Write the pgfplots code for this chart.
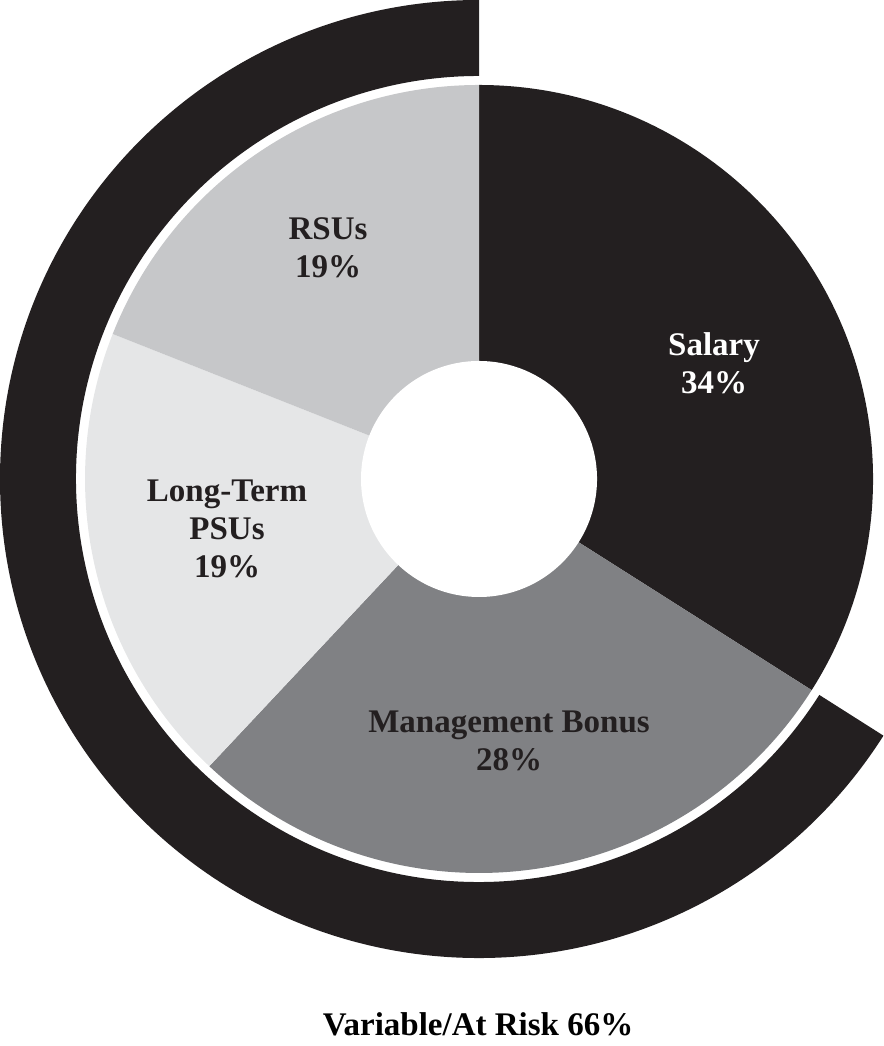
\documentclass[border=0pt]{standalone}
\usepackage{pgfplots}
\usepackage{pgfplotstable}
\pgfplotsset{compat=1.18}
\usepackage{fontspec}
\setmainfont{Liberation Serif}
\definecolor{cSalary}{HTML}{231F20}
\definecolor{cBonus}{HTML}{808184}
\definecolor{cPSU}{HTML}{E5E6E7}
\definecolor{cRSU}{HTML}{C6C7C9}
\definecolor{cRing}{HTML}{231F20}
\definecolor{cText}{HTML}{231F20}

\pgfplotstableread{
name pct
Salary 34
Bonus 28
PSUs 19
RSUs 19
}\datatable
\pgfplotstableread{
name pct
Variable 66
}\ringtable

\begin{document}
\begin{tikzpicture}
\pgfplotstablegetelem{0}{pct}\of\datatable \let\pA\pgfplotsretval
\pgfplotstablegetelem{1}{pct}\of\datatable \let\pB\pgfplotsretval
\pgfplotstablegetelem{2}{pct}\of\datatable \let\pC\pgfplotsretval
\pgfplotstablegetelem{3}{pct}\of\datatable \let\pD\pgfplotsretval
\pgfplotstablegetelem{0}{pct}\of\ringtable \let\pV\pgfplotsretval
\pgfmathsetmacro\aO{90}
\pgfmathsetmacro\aA{\aO-3.6*\pA}
\pgfmathsetmacro\aB{\aA-3.6*\pB}
\pgfmathsetmacro\aC{\aB-3.6*\pC}
\pgfmathsetmacro\aD{\aC-3.6*\pD}
\pgfmathsetmacro\aV{90+3.6*\pV}
\def\cx{479}\def\cy{567}
\def\R{394}\def\Rb{197bp}
\def\Ri{403}\def\Rib{201.5bp}
\def\Ro{479}\def\Rob{239.5bp}
\begin{axis}[
  x=0.5bp, y=0.5bp,
  xmin=0, xmax=883, ymin=0, ymax=1046,
  hide axis, clip=false,
]
\path (axis cs:0,0) rectangle (axis cs:883,1046);
% outer ring (variable / at risk)
\fill[cRing] (axis cs:{\cx+\Ro*cos(\aO)},{\cy+\Ro*sin(\aO)})
  arc[start angle=\aO, end angle=\aV, radius=\Rob]
  -- (axis cs:{\cx+\Ri*cos(\aV)},{\cy+\Ri*sin(\aV)})
  arc[start angle=\aV, end angle=\aO, radius=\Rib] -- cycle;
% wedges
\fill[cSalary] (axis cs:\cx,\cy) -- (axis cs:{\cx+\R*cos(\aO)},{\cy+\R*sin(\aO)})
  arc[start angle=\aO, end angle=\aA, radius=\Rb] -- cycle;
\fill[cBonus] (axis cs:\cx,\cy) -- (axis cs:{\cx+\R*cos(\aA)},{\cy+\R*sin(\aA)})
  arc[start angle=\aA, end angle=\aB, radius=\Rb] -- cycle;
\fill[cPSU] (axis cs:\cx,\cy) -- (axis cs:{\cx+\R*cos(\aB)},{\cy+\R*sin(\aB)})
  arc[start angle=\aB, end angle=\aC, radius=\Rb] -- cycle;
\fill[cRSU] (axis cs:\cx,\cy) -- (axis cs:{\cx+\R*cos(\aC)},{\cy+\R*sin(\aC)})
  arc[start angle=\aC, end angle=\aD, radius=\Rb] -- cycle;
% hole
\fill[white] (axis cs:\cx,\cy) circle[radius=59bp];
% labels
\tikzset{lbl/.style={align=center, font=\fontsize{16.5bp}{19bp}\selectfont\bfseries, inner sep=0pt}}
\node[lbl, text=white] at (axis cs:714,683) {Salary\\34\%};
\node[lbl, text=cText] at (axis cs:509,305) {Management Bonus\\28\%};
\node[lbl, text=cText] at (axis cs:227,517) {Long-Term\\PSUs\\19\%};
\node[lbl, text=cText] at (axis cs:328,798) {RSUs\\19\%};
\node[lbl, text=black] at (axis cs:478,22) {Variable/At Risk 66\%};
\end{axis}
\end{tikzpicture}
\end{document}
